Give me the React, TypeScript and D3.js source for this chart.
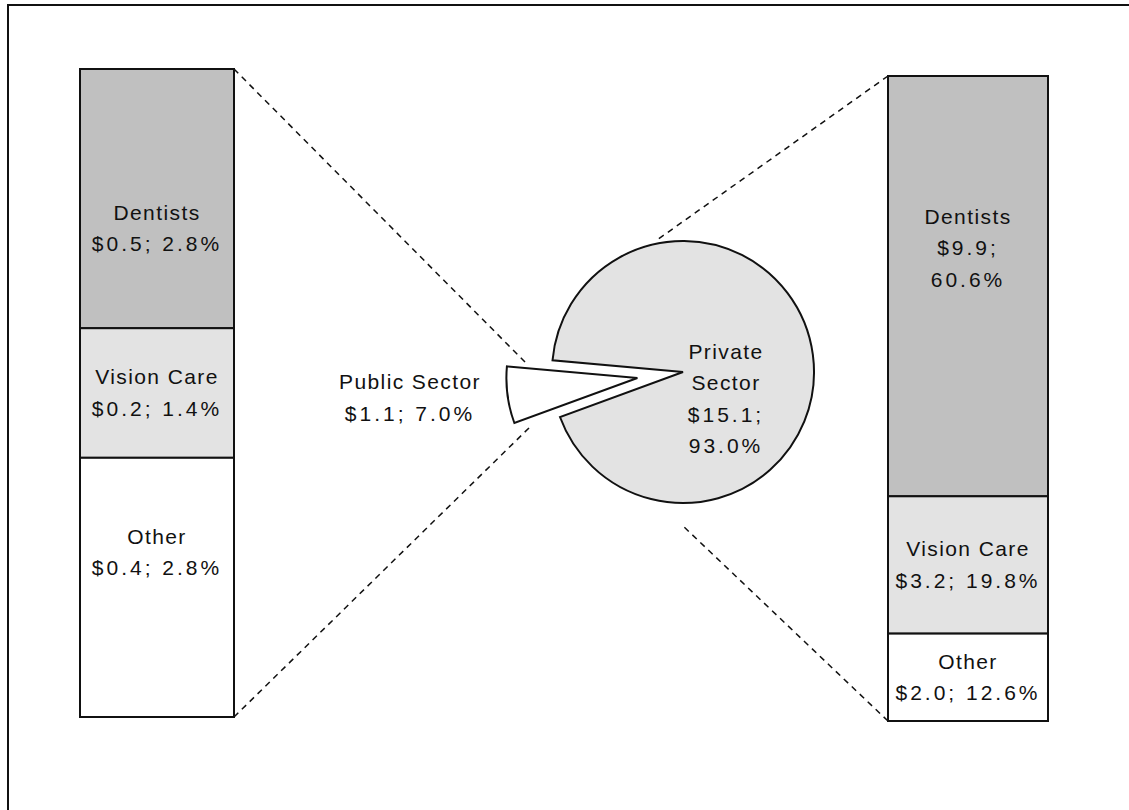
import React from "react";
import * as d3 from "d3";

// spending, $ billions and share of total
const segments = ["Dentists", "Vision Care", "Other"];
const publicValues = [0.5, 0.2, 0.4];
const publicShares = [2.8, 1.4, 2.8];
const privateValues = [9.9, 3.2, 2.0];
const privateShares = [60.6, 19.8, 12.6];

const sectors = ["Private Sector", "Public Sector"];
const sectorValues = [15.1, 1.1];
const sectorShares = [93.0, 7.0];

const segmentFills = ["#c0c0c0", "#e3e3e3", "#ffffff"];
const sectorFills = ["#e3e3e3", "#ffffff"];

const W = 1129;
const H = 810;
const FONT = "'Liberation Sans', Arial, sans-serif";
const LINE = 31.5;

const fmt = (v: number, s: number) => `$${v.toFixed(1)}; ${s.toFixed(1)}%`;

type Seg = { name: string; value: number; share: number; y0: number; y1: number; fill: string };

function stack(values: number[], shares: number[], top: number, bottom: number): Seg[] {
  const total = d3.sum(shares);
  const y = d3.scaleLinear().domain([0, total]).range([top, bottom]);
  let acc = 0;
  return segments.map((name, i) => {
    const s = { name, value: values[i], share: shares[i], y0: y(acc), y1: y(acc + shares[i]), fill: segmentFills[i] };
    acc += shares[i];
    return s;
  });
}

function Label({ x, y, lines }: { x: number; y: number; lines: string[] }) {
  // y = visual middle of the block
  const first = y - ((lines.length - 1) * LINE) / 2 + 7;
  return (
    <text textAnchor="middle" fontFamily={FONT} fontSize={21} fill="#111">
      {lines.map((l, i) => (
        <tspan key={i} x={x} y={first + i * LINE} letterSpacing={/^[A-Z]/.test(l) ? 1.4 : 3}>
          {l}
        </tspan>
      ))}
    </text>
  );
}

function Bar({ segs, x0, x1, shift, wrap }: { segs: Seg[]; x0: number; x1: number; shift: number[]; wrap: boolean[] }) {
  return (
    <g>
      {segs.map((s) => (
        <rect key={s.name} x={x0} y={s.y0} width={x1 - x0} height={s.y1 - s.y0} fill={s.fill} stroke="#111" strokeWidth={2} />
      ))}
      {segs.map((s, i) => {
        const val = fmt(s.value, s.share);
        const lines = wrap[i] ? [s.name, ...val.split(" ")] : [s.name, val];
        return <Label key={s.name} x={(x0 + x1) / 2} y={(s.y0 + s.y1) / 2 + shift[i]} lines={lines} />;
      })}
    </g>
  );
}

export default function App() {
  const leftX = [80, 234];
  const rightX = [888, 1048];
  const left = stack(publicValues, publicShares, 69, 717);
  const right = stack(privateValues, privateShares, 76, 721);

  // pie: public slice exploded toward the left
  const cx = 683;
  const cy = 372;
  const r = 131;
  const pubMid = (262.5 * Math.PI) / 180;
  const pubHalf = (sectorShares[1] / 100) * Math.PI;
  const pie = d3
    .pie<number>()
    .sort(null)
    .value((d) => d)
    .startAngle(pubMid + pubHalf)
    .endAngle(pubMid + pubHalf + 2 * Math.PI);
  const arcs = pie(sectorShares);
  const arc = d3.arc<d3.PieArcDatum<number>>().innerRadius(0).outerRadius(r);
  const explode = 46;
  const offset = (i: number) => {
    if (i === 0) return [0, 0];
    const a = (arcs[i].startAngle + arcs[i].endAngle) / 2;
    return [Math.sin(a) * explode, -Math.cos(a) * explode];
  };

  const connectors = [
    [leftX[1], left[0].y0, cx - 158, cy - 10],
    [leftX[1], left[2].y1, cx - 151, cy + 53],
    [rightX[0], right[0].y0, cx - 26, cy - 132],
    [rightX[0], right[2].y1, cx, cy + 154],
  ];

  return (
    <svg width={W} height={H} style={{ position: "absolute", left: 0, top: 0, background: "#fff" }}>
      <rect x={8} y={5} width={W + 20} height={H + 20} fill="#fff" stroke="#111" strokeWidth={2} />

      {connectors.map((c, i) => (
        <line key={i} x1={c[0]} y1={c[1]} x2={c[2]} y2={c[3]} stroke="#111" strokeWidth={1.5} strokeDasharray="6,5" />
      ))}

      <Bar segs={left} x0={leftX[0]} x1={leftX[1]} shift={[30, 0, -35]} wrap={[false, false, false]} />
      <Bar segs={right} x0={rightX[0]} x1={rightX[1]} shift={[-38, 0, 0]} wrap={[true, false, false]} />

      {arcs.map((a, i) => {
        const [dx, dy] = offset(i);
        return (
          <path
            key={i}
            d={arc(a) || ""}
            transform={`translate(${cx + dx},${cy + dy})`}
            fill={sectorFills[i]}
            stroke="#111"
            strokeWidth={2}
            strokeLinejoin="miter"
          />
        );
      })}

      <Label
        x={cx + 43}
        y={cy + 27}
        lines={["Private", "Sector", `$${sectorValues[0].toFixed(1)};`, `${sectorShares[0].toFixed(1)}%`]}
      />
      <Label x={410} y={398} lines={[sectors[1], fmt(sectorValues[1], sectorShares[1])]} />
    </svg>
  );
}
